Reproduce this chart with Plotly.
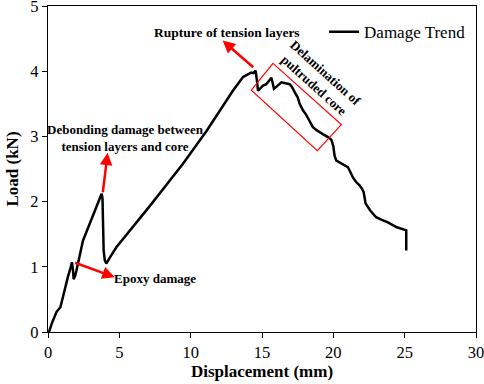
import plotly.graph_objects as go

# Load-displacement data
disp = [0.0, 0.07, 0.3, 0.5, 0.6, 0.87, 1.1, 1.4, 1.6, 1.68, 1.75, 1.80, 1.9, 1.99,
        2.45, 2.92, 3.39, 3.76, 3.82, 3.86, 3.90, 3.98, 4.09, 4.3, 4.79,
        7.13, 9.46, 11.1, 12.96, 13.67, 14.25, 14.4, 14.55, 14.65, 14.72,
        15.07, 15.3, 15.66, 15.84, 16.0, 16.36, 16.94, 17.1, 17.29, 17.5, 17.64,
        17.87, 18.1, 18.34, 18.57, 18.8, 19.04, 19.3, 19.62, 19.86, 20.0, 20.09,
        20.21, 20.67, 21.02, 21.2, 21.37, 21.6, 21.84, 22.0, 22.12, 22.2, 22.26,
        22.6, 23.0, 23.4, 23.83, 24.41, 24.8, 25.11, 25.11]
load = [0.0, 0.0, 0.15, 0.27, 0.31, 0.38, 0.6, 0.85, 1.0, 1.07, 0.95, 0.81, 0.86, 0.94,
        1.40, 1.66, 1.91, 2.12, 2.05, 1.6, 1.25, 1.10, 1.05, 1.13, 1.30,
        1.93, 2.58, 3.08, 3.70, 3.91, 3.98, 3.97, 4.01, 3.85, 3.70,
        3.78, 3.80, 3.90, 3.73, 3.76, 3.83, 3.80, 3.76, 3.68, 3.60, 3.50,
        3.40, 3.33, 3.24, 3.14, 3.10, 3.06, 3.03, 2.99, 2.95, 2.85, 2.70,
        2.63, 2.58, 2.53, 2.45, 2.37, 2.30, 2.25, 2.20, 2.15, 2.05, 1.97,
        1.86, 1.76, 1.72, 1.68, 1.61, 1.58, 1.56, 1.25]

x_ticks = [0, 5, 10, 15, 20, 25, 30]
y_ticks = [0, 1, 2, 3, 4, 5]

FONT = "Liberation Serif"
RED = "#ff0000"

fig = go.Figure()
fig.add_trace(go.Scatter(x=disp, y=load, mode="lines", name="Damage Trend",
                         line=dict(color="black", width=2.5)))

# arrows (head near text, tail at the event on the curve)
arrows = [
    dict(x=12.24, y=4.47, ax=14.49, ay=4.04),   # rupture
    dict(x=4.18, y=2.75, ax=3.83, ay=2.12),     # debonding
    dict(x=4.68, y=0.84, ax=1.80, ay=1.07),     # epoxy
]
for a in arrows:
    fig.add_annotation(x=a["x"], y=a["y"], ax=a["ax"], ay=a["ay"], xref="x", yref="y",
                       axref="x", ayref="y", text="", showarrow=True,
                       arrowhead=2, arrowsize=1.0, arrowwidth=2.5, arrowcolor=RED)

labels = [
    dict(x=12.54, y=4.59, text="<b>Rupture of tension layers</b>", angle=0, size=13.5),
    dict(x=5.41, y=2.97, text="<b>Debonding damage between<br>tension layers and core</b>", angle=0, size=13),
    dict(x=7.51, y=0.82, text="<b>Epoxy damage</b>", angle=0, size=13),
    dict(x=19.04, y=3.88, text="<b>Delamination of<br>pultruded core</b>", angle=42, size=13),
]
for l in labels:
    fig.add_annotation(x=l["x"], y=l["y"], xref="x", yref="y", text=l["text"],
                       showarrow=False, textangle=l["angle"],
                       font=dict(family=FONT, size=l["size"], color="black"))

# rotated red rectangle
fig.add_shape(type="path", xref="x", yref="y",
              path="M 15.77 4.12 L 20.56 3.18 L 18.88 2.78 L 14.25 3.71 Z",
              line=dict(color=RED, width=1.2))

fig.update_layout(
    width=484, height=384,
    margin=dict(l=48, r=8, t=6, b=52),
    paper_bgcolor="white", plot_bgcolor="white",
    font=dict(family=FONT, color="black", size=17),
    showlegend=True,
    legend=dict(x=0.645, y=0.975, xanchor="left", yanchor="top",
                bgcolor="rgba(0,0,0,0)", font=dict(family=FONT, size=17)),
    xaxis=dict(range=[0, 30], tickvals=x_ticks, showgrid=False, zeroline=False,
               showline=True, linecolor="black", linewidth=1.2, mirror=True,
               ticks="outside", ticklen=5, tickcolor="black", automargin=False,
               ticklabeloverflow="allow",
               tickfont=dict(family=FONT, size=16.5),
               title=dict(text="<b>Displacement (mm)</b>", font=dict(family=FONT, size=17), standoff=4)),
    yaxis=dict(range=[0, 5], tickvals=y_ticks, showgrid=False, zeroline=False,
               showline=True, linecolor="black", linewidth=1.2, mirror=True,
               ticks="outside", ticklen=5, tickcolor="black", automargin=False,
               ticklabeloverflow="allow",
               tickfont=dict(family=FONT, size=16.5),
               title=dict(text="<b>Load (kN)</b>", font=dict(family=FONT, size=17), standoff=7)),
)

fig.write_html("out.html", config={"displayModeBar": False},
               post_script="document.body.style.margin='0px';document.body.style.overflow='hidden';")
